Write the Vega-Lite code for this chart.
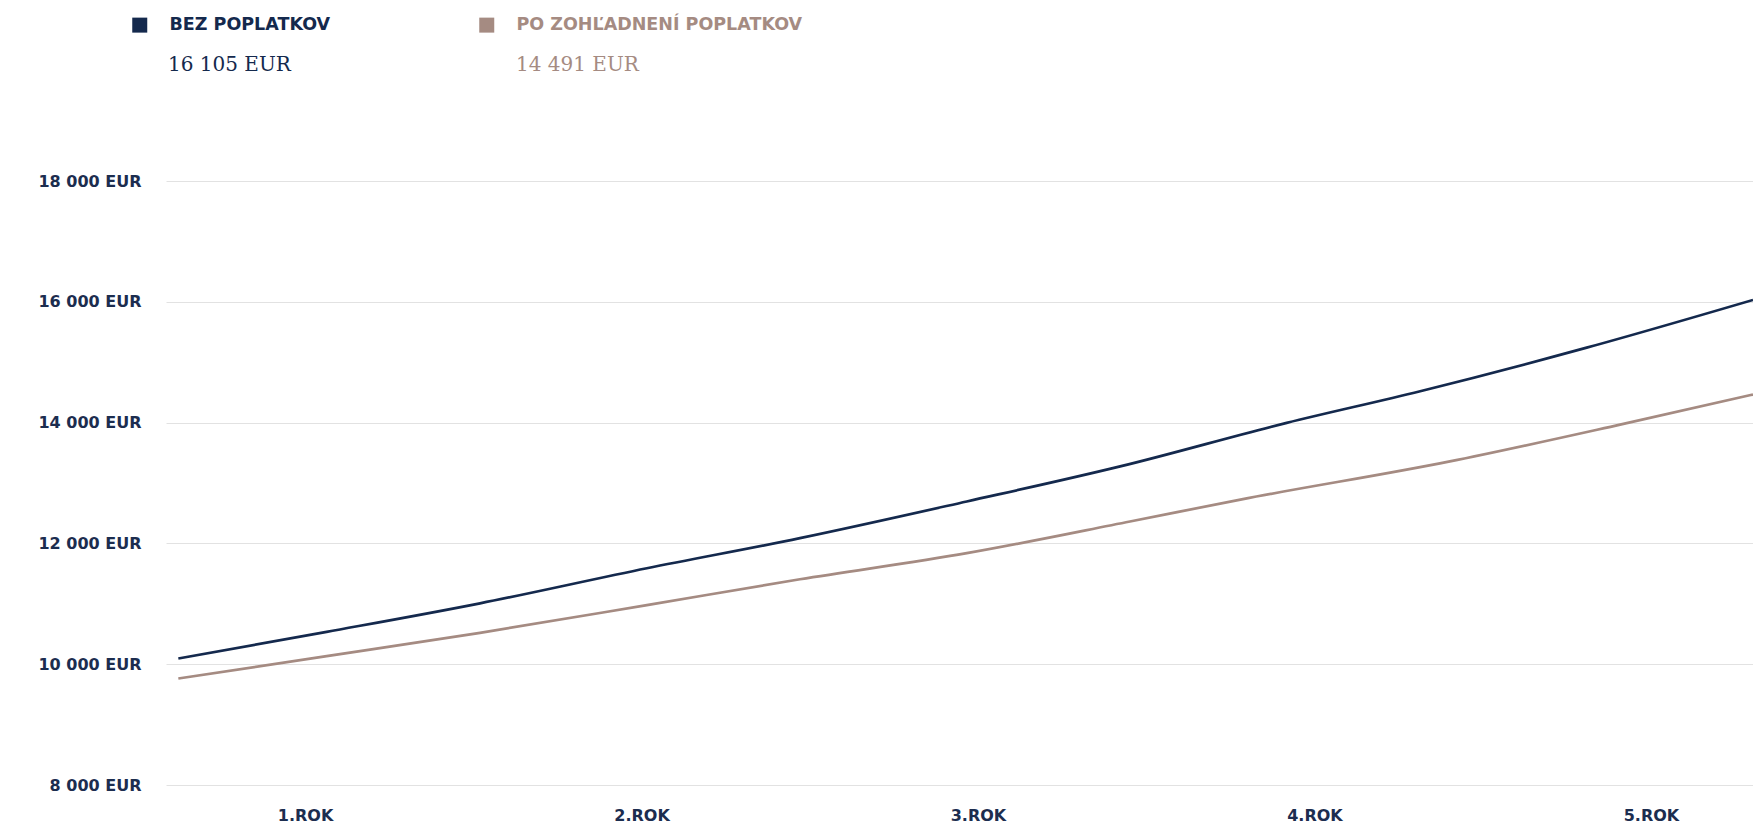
{
  "$schema": "https://vega.github.io/schema/vega-lite/v6.json",
  "width": 1587,
  "height": 604,
  "autosize": {"type": "none"},
  "padding": {"left": 166, "top": 181, "right": 0, "bottom": 41},
  "background": "#ffffff",
  "config": {"view": {"stroke": null}},
  "datasets": {
    "legenda": [
      {"seria": "BEZ POPLATKOV", "suma": "16 105 EUR"},
      {"seria": "PO ZOHĽADNENÍ POPLATKOV", "suma": "14 491 EUR"}
    ]
  },
  "data": {
    "values": [
      {"seria": "BEZ POPLATKOV", "mesiac": 7.48, "hodnota": 10095},
      {"seria": "BEZ POPLATKOV", "mesiac": 12.77, "hodnota": 10536},
      {"seria": "BEZ POPLATKOV", "mesiac": 18.24, "hodnota": 11008},
      {"seria": "BEZ POPLATKOV", "mesiac": 24.19, "hodnota": 11589},
      {"seria": "BEZ POPLATKOV", "mesiac": 29.65, "hodnota": 12087},
      {"seria": "BEZ POPLATKOV", "mesiac": 35.6, "hodnota": 12694},
      {"seria": "BEZ POPLATKOV", "mesiac": 41.07, "hodnota": 13275},
      {"seria": "BEZ POPLATKOV", "mesiac": 47.01, "hodnota": 13996},
      {"seria": "BEZ POPLATKOV", "mesiac": 51.77, "hodnota": 14520},
      {"seria": "BEZ POPLATKOV", "mesiac": 57.71, "hodnota": 15241},
      {"seria": "BEZ POPLATKOV", "mesiac": 63.64, "hodnota": 16031},
      {"seria": "PO ZOHĽADNENÍ POPLATKOV", "mesiac": 7.48, "hodnota": 9763},
      {"seria": "PO ZOHĽADNENÍ POPLATKOV", "mesiac": 12.77, "hodnota": 10133},
      {"seria": "PO ZOHĽADNENÍ POPLATKOV", "mesiac": 18.24, "hodnota": 10520},
      {"seria": "PO ZOHĽADNENÍ POPLATKOV", "mesiac": 24.19, "hodnota": 10979},
      {"seria": "PO ZOHĽADNENÍ POPLATKOV", "mesiac": 29.65, "hodnota": 11406},
      {"seria": "PO ZOHĽADNENÍ POPLATKOV", "mesiac": 35.6, "hodnota": 11838},
      {"seria": "PO ZOHĽADNENÍ POPLATKOV", "mesiac": 41.42, "hodnota": 12362},
      {"seria": "PO ZOHĽADNENÍ POPLATKOV", "mesiac": 45.45, "hodnota": 12734},
      {"seria": "PO ZOHĽADNENÍ POPLATKOV", "mesiac": 52.83, "hodnota": 13358},
      {"seria": "PO ZOHĽADNENÍ POPLATKOV", "mesiac": 58.9, "hodnota": 13967},
      {"seria": "PO ZOHĽADNENÍ POPLATKOV", "mesiac": 63.64, "hodnota": 14465}
    ]
  },
  "transform": [
    {"lookup": "seria", "from": {"data": {"name": "legenda"}, "key": "seria", "fields": ["suma"]}}
  ],
  "mark": {"type": "line", "strokeWidth": 2.7, "clip": true, "interpolate": "monotone"},
  "encoding": {
    "x": {
      "field": "mesiac",
      "type": "quantitative",
      "scale": {"domain": [7.04, 63.64], "nice": false, "zero": false},
      "axis": {
        "title": null,
        "values": [12, 24, 36, 48, 60],
        "labelExpr": "(datum.value / 12) + '.ROK'",
        "grid": false,
        "domain": false,
        "ticks": false,
        "labelPadding": 22,
        "labelFont": "DejaVu Sans",
        "labelFontWeight": "bold",
        "labelFontSize": 16,
        "labelColor": "#1c2d4f",
        "labelFlush": false
      }
    },
    "y": {
      "field": "hodnota",
      "type": "quantitative",
      "scale": {"domain": [8000, 18000], "nice": false, "zero": false},
      "axis": {
        "title": null,
        "values": [8000, 10000, 12000, 14000, 16000, 18000],
        "labelExpr": "replace(format(datum.value, ',d'), ',', ' ') + ' EUR'",
        "grid": true,
        "gridColor": "#e2e2e2",
        "gridWidth": 1,
        "domain": false,
        "ticks": false,
        "labelPadding": 25,
        "labelFont": "DejaVu Sans",
        "labelFontWeight": "bold",
        "labelFontSize": 16,
        "labelColor": "#1c2d4f"
      }
    },
    "color": {
      "field": "seria",
      "type": "nominal",
      "scale": {
        "domain": ["BEZ POPLATKOV", "PO ZOHĽADNENÍ POPLATKOV"],
        "range": ["#14294d", "#a58b82"]
      },
      "legend": {
        "title": null,
        "orient": "none",
        "legendX": -35,
        "legendY": -165,
        "direction": "horizontal",
        "symbolType": "square",
        "symbolSize": 225,
        "symbolStrokeWidth": 0,
        "labelOffset": 21,
        "columnPadding": 147,
        "labelFont": "DejaVu Sans",
        "labelFontWeight": "bold",
        "labelFontSize": 17.5,
        "labelLimit": 600,
        "encode": {
          "symbols": {"update": {"fill": {"signal": "scale('color', datum.value)"}, "strokeWidth": {"value": 0}}},
          "labels": {"update": {"fill": {"signal": "scale('color', datum.value)"}}}
        }
      }
    },
    "opacity": {
      "field": "suma",
      "type": "nominal",
      "scale": {"domain": ["16 105 EUR", "14 491 EUR"], "range": [1, 1]},
      "legend": {
        "title": null,
        "orient": "none",
        "legendX": -18,
        "legendY": -126,
        "direction": "horizontal",
        "symbolType": "circle",
        "symbolSize": 1,
        "symbolOpacity": 0,
        "labelOffset": 0,
        "columnPadding": 205,
        "labelFont": "DejaVu Serif",
        "labelFontSize": 20,
        "labelLimit": 600,
        "encode": {
          "symbols": {"update": {"opacity": {"value": 0}, "fillOpacity": {"value": 0}, "strokeOpacity": {"value": 0}}},
          "labels": {"update": {"fill": {"signal": "datum.value === '16 105 EUR' ? '#14294d' : '#a58b82'"}}}
        }
      }
    }
  }
}
